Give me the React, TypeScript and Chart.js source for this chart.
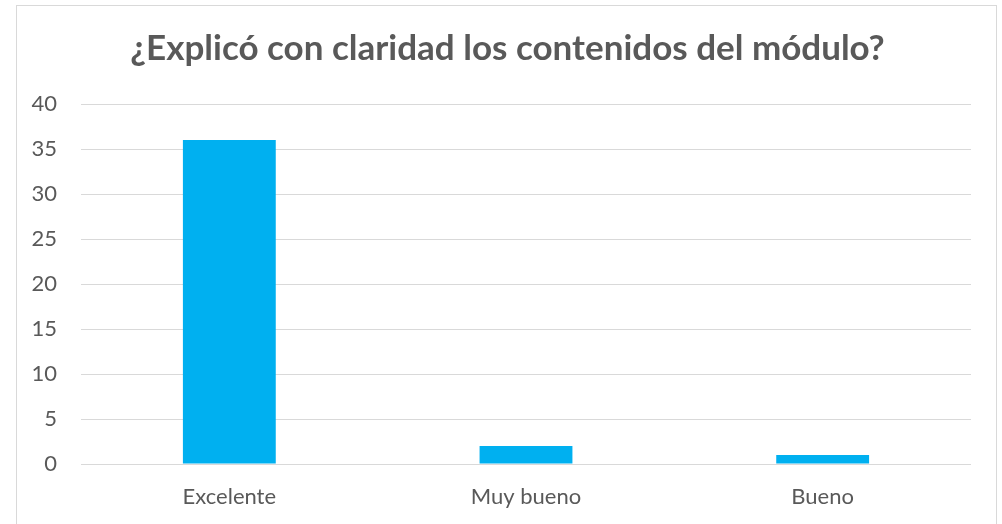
import React, { useEffect, useRef } from "react";
import { Chart, registerables } from "chart.js";

Chart.register(...registerables);

const categories = ["Excelente", "Muy bueno", "Bueno"];
const values = [36, 2, 1];
const titleText = "¿Explicó con claridad los contenidos del módulo?";
const yMin = 0;
const yMax = 40;
const yStep = 5;

const FONT = "Lato, 'Open Sans', sans-serif";
const TEXT = "#595959";

const titlePlugin = {
  id: "boxTitle",
  afterDraw(chart: any) {
    const ctx = chart.ctx;
    ctx.save();
    ctx.fillStyle = TEXT;
    ctx.font = `bold 35px ${FONT}`;
    ctx.textAlign = "center";
    ctx.textBaseline = "alphabetic";
    ctx.fillText(titleText, 507.5, 60);
    ctx.restore();
  },
};

export default function App() {
  const ref = useRef<HTMLCanvasElement | null>(null);
  useEffect(() => {
    if (!ref.current) return;
    const chart = new Chart(ref.current, {
      type: "bar",
      data: {
        labels: categories,
        datasets: [
          {
            data: values,
            backgroundColor: "#00B0F0",
            borderWidth: 0,
            categoryPercentage: 1,
            barPercentage: 0.313,
          },
        ],
      },
      plugins: [titlePlugin],
      options: {
        animation: false,
        responsive: false,
        maintainAspectRatio: false,
        layout: { padding: { left: 16, right: 31, top: 104, bottom: 0 } },
        plugins: {
          legend: { display: false },
          tooltip: { enabled: false },
          title: { display: false },
        },
        scales: {
          x: {
            grid: { display: false, drawTicks: false },
            border: { display: false },
            ticks: {
              color: TEXT,
              font: { family: FONT, size: 22 },
              padding: 20,
            },
            afterFit: (s: any) => {
              s.height = 60;
            },
          },
          y: {
            min: yMin,
            max: yMax,
            grid: { color: "#d9d9d9", lineWidth: 1, drawTicks: false },
            border: { display: false },
            ticks: {
              stepSize: yStep,
              color: TEXT,
              font: { family: FONT, size: 22 },
              padding: 24,
            },
            afterFit: (s: any) => {
              s.width = 65;
            },
          },
        },
      },
    });
    return () => chart.destroy();
  }, []);
  return (
    <div style={{ position: "fixed", left: 0, top: 0, width: 1002, height: 524, background: "#fff" }}>
      <div
        style={{
          position: "absolute",
          left: 16,
          top: 5,
          width: 981,
          height: 540,
          border: "1px solid #d9d9d9",
          boxSizing: "border-box",
        }}
      />
      <canvas ref={ref} width={1002} height={524} style={{ position: "absolute", left: 0, top: 0 }} />
    </div>
  );
}
